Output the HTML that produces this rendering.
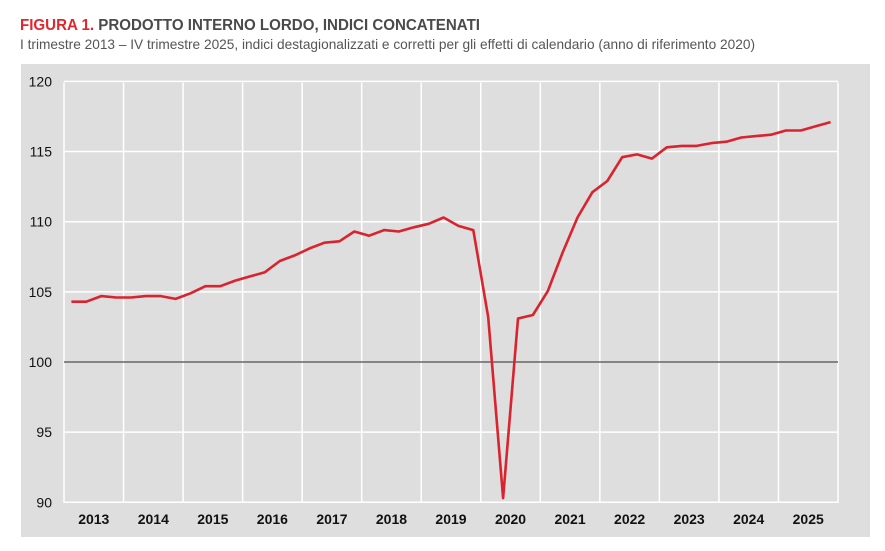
<!DOCTYPE html>
<html><head><meta charset="utf-8"><style>
html,body{margin:0;padding:0;background:#fff;width:885px;height:551px;overflow:hidden}
svg text{font-family:"Liberation Sans",sans-serif}
</style></head><body>
<svg id="s" width="885" height="551" viewBox="0 0 885 551" xmlns="http://www.w3.org/2000/svg">
<text x="20" y="30" font-size="16" font-weight="bold" textLength="460" lengthAdjust="spacingAndGlyphs"><tspan fill="#e3262d">FIGURA 1.</tspan><tspan fill="#4a4a4a"> PRODOTTO INTERNO LORDO, INDICI CONCATENATI</tspan></text>
<text x="20" y="49" font-size="14" fill="#555" textLength="735" lengthAdjust="spacingAndGlyphs">I trimestre 2013 – IV trimestre 2025, indici destagionalizzati e corretti per gli effetti di calendario (anno di riferimento 2020)</text>
<rect x="21" y="64" width="849" height="473" fill="#dedede"/>
<g id="grid" stroke="#fff" stroke-width="1.5"></g>
<line x1="64" y1="362" x2="838" y2="362" stroke="#666" stroke-width="1.5"/>
<g id="lab" font-size="14" fill="#111"></g>
<polyline id="ln" fill="none" stroke="#d9232e" stroke-width="2.6" stroke-linejoin="round"/>
</svg>
<script>
var ns="http://www.w3.org/2000/svg";
function el(t,a,p,txt){var e=document.createElementNS(ns,t);for(var k in a)e.setAttribute(k,a[k]);if(txt)e.textContent=txt;document.getElementById(p).appendChild(e);}
var L=64,R=838,T=82.5,B=503;
function Y(v){return 362-(v-100)*14.03;}
for(var v=90;v<=120;v+=5){var y=Y(v);if(v!=100)el('line',{x1:L,x2:R,y1:y,y2:y},'grid');el('text',{x:52,y:y+5,'text-anchor':'end'},'lab',String(v));}
var w=(R-L)/13;
for(var i=0;i<=13;i++){var x=L+i*w;el('line',{x1:x,x2:x,y1:T,y2:B},'grid');}
for(var i=0;i<13;i++){el('text',{x:L+(i+0.5)*w,y:524,'text-anchor':'middle','font-weight':'bold'},'lab',String(2013+i));}
var d=[104.3,104.3,104.7,104.6,104.6,104.7,104.7,104.5,104.9,105.4,105.4,105.8,106.1,106.4,107.2,107.6,108.1,108.5,108.6,109.3,109.0,109.4,109.3,109.6,109.85,110.3,109.7,109.4,103.2,90.3,103.1,103.35,105.05,107.8,110.3,112.1,112.9,114.6,114.8,114.5,115.3,115.4,115.4,115.6,115.7,116.0,116.1,116.2,116.5,116.5,116.8,117.1];
var p=d.map(function(v,i){return (L+(i+0.5)*w/4).toFixed(1)+','+Y(v).toFixed(1)}).join(' ');
document.getElementById('ln').setAttribute('points',p);
</script>
</body></html>
